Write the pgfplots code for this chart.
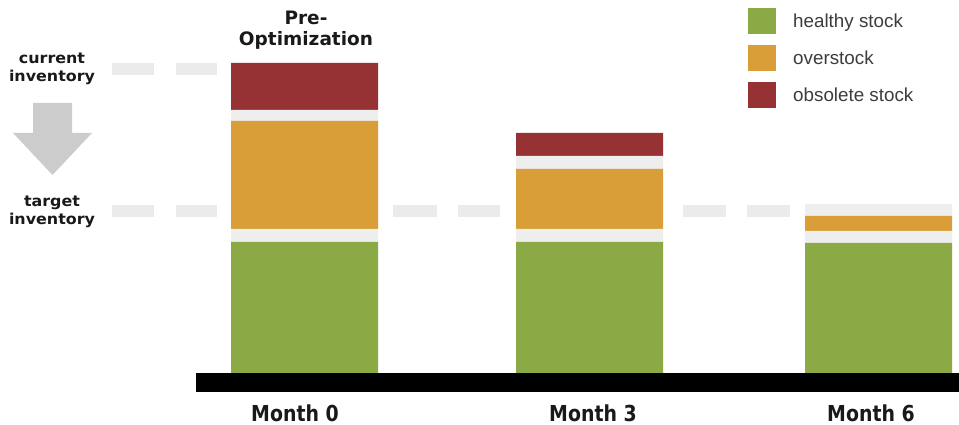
\documentclass[border=0pt]{standalone}
\usepackage{fontspec}
\setmainfont{Liberation Sans}
\newfontfamily\dejavu{DejaVu Sans}
\newfontfamily\dejavulab{DejaVu Sans}[FakeStretch=1.06]
\newfontfamily\dejavunarrow{DejaVu Sans}[FakeStretch=0.86]
\usepackage{pgfplots}
\pgfplotsset{compat=1.18}
\definecolor{cgreen}{RGB}{139,170,69}
\definecolor{corange}{RGB}{218,158,56}
\definecolor{cred}{RGB}{151,50,52}
\definecolor{cgap}{RGB}{238,238,238}
\definecolor{cdash}{RGB}{235,235,235}
\definecolor{carrow}{RGB}{204,204,204}
\definecolor{ctext}{RGB}{25,25,25}
\definecolor{clegend}{RGB}{60,60,60}
\begin{document}
\begin{tikzpicture}
\pgfplotsset{base/.style={scale only axis, width=959pt, height=425pt,
  xmin=0, xmax=959, ymin=-52, ymax=373, clip=false}}
% decorations: baseline, guide dashes, arrow, labels
\begin{axis}[base, hide axis]
\addplot[fill=black, draw=none] coordinates {(196,0)(959,0)(959,-19)(196,-19)} -- cycle;
\addplot[draw=cdash, line width=12pt, unbounded coords=jump] coordinates
  {(112,304)(154,304)(nan,nan)(176,304)(217,304)};
\addplot[draw=cdash, line width=12pt, unbounded coords=jump] coordinates
  {(112,162)(154,162)(nan,nan)(176,162)(217,162)(nan,nan)(393,162)(437,162)(nan,nan)(458,162)(500,162)(nan,nan)(683,162)(726,162)(nan,nan)(747,162)(790,162)};
\addplot[fill=carrow, draw=none] coordinates
  {(33,270)(72,270)(72,240)(92,240)(52.5,198)(13,240)(33,240)} -- cycle;
\node[font=\dejavulab\bfseries\fontsize{15}{18}\selectfont, text=ctext, align=center] at (axis cs:52,304) {current\\inventory};
\node[font=\dejavulab\bfseries\fontsize{15}{18}\selectfont, text=ctext, align=center] at (axis cs:52,161) {target\\inventory};
\node[font=\dejavu\bfseries\fontsize{18.5}{21}\selectfont, text=ctext, align=center] at (axis cs:306,343) {Pre-\\Optimization};
\end{axis}
% stacked bars
\begin{axis}[base, ybar stacked, bar width=147,
  axis line style={draw=none}, ytick=\empty, major tick length=0pt,
  xtick={295,593,871}, xticklabels={Month 0,Month 3,Month 6},
  xticklabel style={font=\dejavunarrow\bfseries\fontsize{22}{24}\selectfont, text=ctext, anchor=center, yshift=12pt},
  legend style={at={(axis cs:748,365)}, anchor=north west, draw=none, fill=none,
    inner sep=0pt, row sep=11pt, font=\fontsize{18.8}{21}\selectfont, text=clegend,
    /tikz/every odd column/.append style={column sep=15pt}},
  legend cell align=left,
  legend image code/.code={\fill[#1] (0pt,-13pt) rectangle (28pt,13pt);}]
\addplot[fill=cgreen, draw=none] coordinates {(304.5,131)(589.5,131)(878.5,130)};
\addlegendentry{healthy stock}
\addplot[fill=cgap, draw=none, forget plot] coordinates {(304.5,13)(589.5,13)(878.5,12)};
\addplot[fill=corange, draw=none] coordinates {(304.5,108)(589.5,60)(878.5,15)};
\addlegendentry{overstock}
\addplot[fill=cgap, draw=none, forget plot] coordinates {(304.5,11)(589.5,13)(878.5,12)};
\addplot[fill=cred, draw=none] coordinates {(304.5,47)(589.5,23)(878.5,0)};
\addlegendentry{obsolete stock}
\end{axis}
\pgfresetboundingbox
\path (0,0) rectangle (959pt,425pt);
\end{tikzpicture}
\end{document}
